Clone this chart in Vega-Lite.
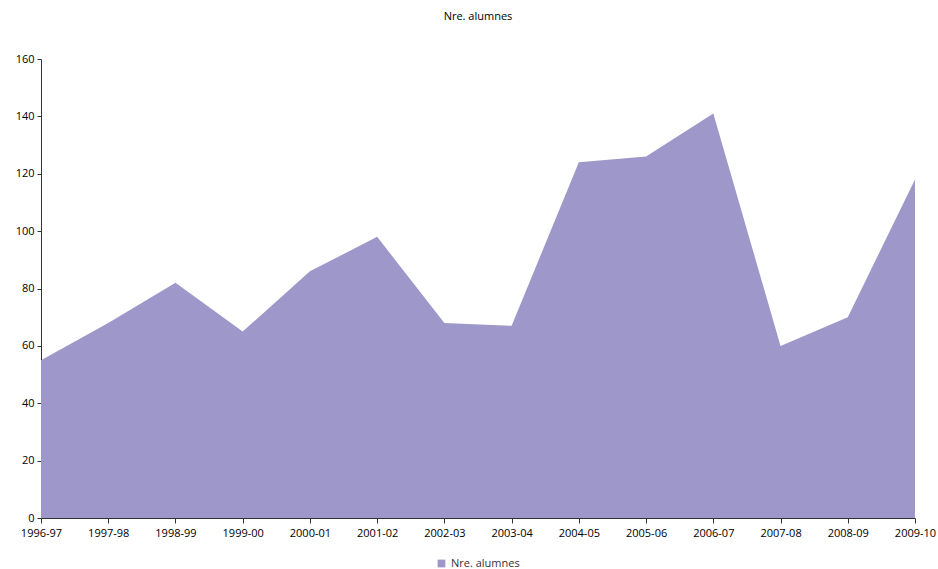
{
  "$schema": "https://vega.github.io/schema/vega-lite/v6.json",
  "autosize": "none",
  "width": 874,
  "height": 459,
  "padding": {"left": 41, "top": 59, "right": 23, "bottom": 51},
  "background": "white",
  "title": {"text": "Nre. alumnes", "font": "Open Sans", "fontSize": 11, "fontWeight": "normal", "color": "#000", "offset": 31, "anchor": "middle"},
  "data": {"values": [
    {"curs": "1996-97", "n": 55, "serie": "Nre. alumnes"},
    {"curs": "1997-98", "n": 68, "serie": "Nre. alumnes"},
    {"curs": "1998-99", "n": 82, "serie": "Nre. alumnes"},
    {"curs": "1999-00", "n": 65, "serie": "Nre. alumnes"},
    {"curs": "2000-01", "n": 86, "serie": "Nre. alumnes"},
    {"curs": "2001-02", "n": 98, "serie": "Nre. alumnes"},
    {"curs": "2002-03", "n": 68, "serie": "Nre. alumnes"},
    {"curs": "2003-04", "n": 67, "serie": "Nre. alumnes"},
    {"curs": "2004-05", "n": 124, "serie": "Nre. alumnes"},
    {"curs": "2005-06", "n": 126, "serie": "Nre. alumnes"},
    {"curs": "2006-07", "n": 141, "serie": "Nre. alumnes"},
    {"curs": "2007-08", "n": 60, "serie": "Nre. alumnes"},
    {"curs": "2008-09", "n": 70, "serie": "Nre. alumnes"},
    {"curs": "2009-10", "n": 118, "serie": "Nre. alumnes"}
  ]},
  "mark": {"type": "area", "opacity": 1},
  "encoding": {
    "x": {"field": "curs", "type": "ordinal", "scale": {"type": "point", "padding": 0}, "title": null,
      "axis": {"labelAngle": 0, "labelFont": "Open Sans", "labelFontSize": 11, "labelColor": "#000", "domainColor": "#333", "tickColor": "#333", "tickSize": 5, "labelPadding": 4, "grid": false}},
    "y": {"field": "n", "type": "quantitative", "scale": {"domain": [0, 160], "nice": false}, "title": null,
      "axis": {"values": [0, 20, 40, 60, 80, 100, 120, 140, 160], "labelFont": "Open Sans", "labelFontSize": 11, "labelColor": "#000", "domainColor": "#333", "tickColor": "#333", "tickSize": 4, "labelPadding": 3, "grid": false}},
    "color": {"field": "serie", "type": "nominal", "scale": {"range": ["#9e97ca"]},
      "legend": {"title": null, "orient": "none", "legendX": 395, "legendY": 499, "direction": "horizontal", "symbolType": "square", "symbolSize": 60, "labelFont": "Open Sans", "labelFontSize": 11, "labelColor": "#333", "symbolStrokeWidth": 0, "padding": 0}}
  },
  "config": {"view": {"stroke": null}}
}
